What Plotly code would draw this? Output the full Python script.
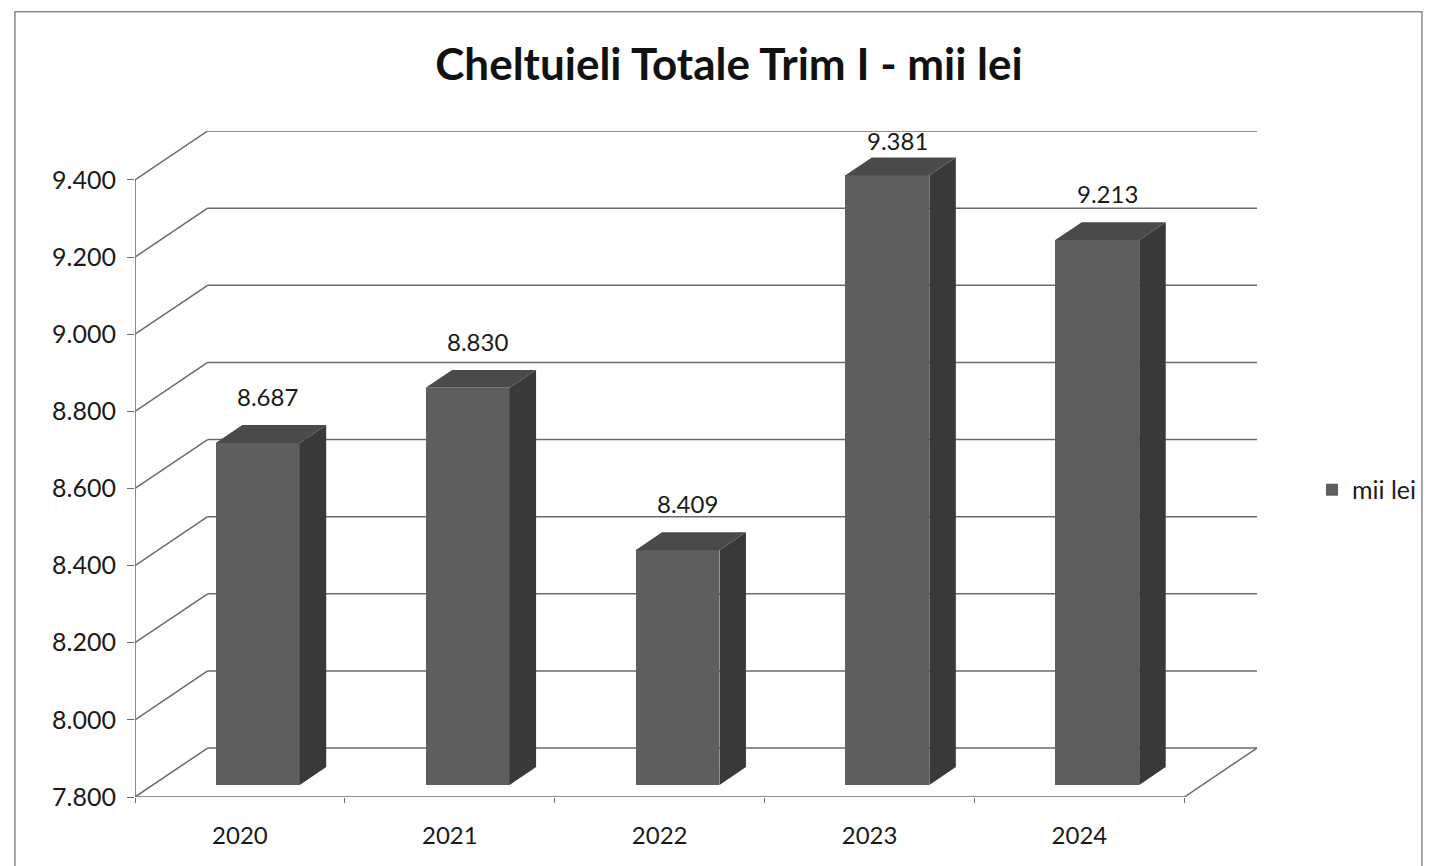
import plotly.graph_objects as go

# ---- data ----
years = ["2020", "2021", "2022", "2023", "2024"]
values = [8687, 8830, 8409, 9381, 9213]
tick_vals = [7800, 8000, 8200, 8400, 8600, 8800, 9000, 9200, 9400]
series_name = "mii lei"
title_text = "Cheltuieli Totale Trim I - mii lei"

# ---- pseudo-3D geometry (in axis units) ----
Y0 = tick_vals[0]
YMAX = tick_vals[-1]
DX = 0.346      # depth offset along x (category units)
DY = 127        # depth offset along y (value units)
F, B = 0.245, 0.61   # front / back depth fraction of bars
BW = 0.40       # bar width
PX_PER_UNIT = 666 / (YMAX + DY - Y0)   # vertical pixels per value unit

FRONT = "#5e5e5e"
SIDE = "#393939"
TOP = "#4a4a4a"
GRID = "#6a6a6a"
FONT = "Lato"

n = len(years)
xs = list(range(n))

fig = go.Figure()

# front faces
fig.add_trace(go.Bar(
    x=[i + F * DX for i in xs],
    y=[v - Y0 for v in values],
    base=[Y0 + F * DY] * n,
    width=BW,
    marker=dict(color=FRONT, line=dict(width=0)),
    name=series_name,
    showlegend=True,
    hoverinfo="skip",
))

# side and top faces
for i, v in zip(xs, values):
    xl = i + F * DX - BW / 2
    xr = i + F * DX + BW / 2
    ddx = (B - F) * DX
    ddy = (B - F) * DY
    yb = Y0 + F * DY
    yt = v + F * DY
    fig.add_trace(go.Scatter(
        x=[xr, xr + ddx, xr + ddx, xr, xr],
        y=[yb, yb + ddy, yt + ddy, yt, yb],
        fill="toself", fillcolor=SIDE, mode="lines",
        line=dict(width=0, color=SIDE), showlegend=False, hoverinfo="skip",
    ))
    fig.add_trace(go.Scatter(
        x=[xl, xr, xr + ddx, xl + ddx, xl],
        y=[yt, yt, yt + ddy, yt + ddy, yt],
        fill="toself", fillcolor=TOP, mode="lines",
        line=dict(width=0, color=TOP), showlegend=False, hoverinfo="skip",
    ))

shapes = []
xL = -0.5
xR = n - 0.5
# back wall gridlines and left wall diagonals
for t in tick_vals:
    shapes.append(dict(type="line", xref="x", yref="y", x0=xL + DX, x1=xR + DX,
                       y0=t + DY, y1=t + DY, line=dict(color=GRID, width=1.5), layer="below"))
    shapes.append(dict(type="line", xref="x", yref="y", x0=xL, x1=xL + DX,
                       y0=t, y1=t + DY, line=dict(color=GRID, width=1.5), layer="below"))
# left vertical axis line
shapes.append(dict(type="line", xref="x", yref="y", x0=xL, x1=xL, y0=Y0, y1=YMAX,
                   line=dict(color=GRID, width=1.5), layer="below"))
# floor front edge and right edge
shapes.append(dict(type="line", xref="x", yref="y", x0=xL, x1=xR, y0=Y0, y1=Y0,
                   line=dict(color=GRID, width=1.5), layer="below"))
shapes.append(dict(type="line", xref="x", yref="y", x0=xR, x1=xR + DX, y0=Y0, y1=Y0 + DY,
                   line=dict(color=GRID, width=1.5), layer="below"))
# outer chart border
shapes.append(dict(type="rect", xref="paper", yref="paper", x0=-0.107, x1=1.147,
                   y0=-0.14, y1=1.179, line=dict(color="#8a8a8a", width=1.5)))

annotations = []
LABEL_GAP_PX = 12
LABEL_H_PX = 30
for i, v in zip(xs, values):
    y_top_face = v + B * DY
    # keep data labels near the plot-area top (as the original chart does)
    top_limit = YMAX + DY - LABEL_H_PX / PX_PER_UNIT
    if y_top_face + LABEL_GAP_PX / PX_PER_UNIT > top_limit:
        ann = dict(y=YMAX + DY, yanchor="top", yshift=7)
    else:
        ann = dict(y=y_top_face, yanchor="bottom", yshift=LABEL_GAP_PX)
    ann.update(
        x=i + (F + B) / 2 * DX, xref="x", yref="y",
        text=f"{v:,}".replace(",", "."), showarrow=False, xshift=-3,
        font=dict(family=FONT, size=24, color="#1a1a1a"),
    )
    annotations.append(ann)

fig.update_layout(
    width=1426, height=858,
    margin=dict(l=127, r=171, t=123, b=69),
    paper_bgcolor="white", plot_bgcolor="white",
    separators=",.",
    title=dict(text=f"<b>{title_text}</b>", x=0.5056, xanchor="center",
               y=0.934, yanchor="middle",
               font=dict(family=FONT, size=44, color="#111111")),
    shapes=shapes,
    annotations=annotations,
    showlegend=True,
    legend=dict(x=1.049, y=0.461, xanchor="left", yanchor="middle",
                font=dict(family=FONT, size=25, color="#1a1a1a"),
                bgcolor="rgba(0,0,0,0)", itemwidth=30),
    bargap=0,
)
fig.update_xaxes(
    range=[xL, xR + DX], tickvals=xs, ticktext=years, showgrid=False, zeroline=False,
    showline=False, ticks="", ticklabelstandoff=22,
    tickfont=dict(family=FONT, size=24, color="#1a1a1a"),
    minor=dict(tickvals=[k - 0.5 for k in range(n + 1)], ticks="outside", ticklen=5,
               tickcolor=GRID, showgrid=False),
    fixedrange=True,
)
fig.update_yaxes(
    range=[Y0, YMAX + DY], tickvals=tick_vals, tickformat=",d", showgrid=False,
    zeroline=False, showline=False, ticks="outside", ticklen=7, tickcolor=GRID,
    ticklabelstandoff=6,
    tickfont=dict(family=FONT, size=25, color="#1a1a1a"),
    fixedrange=True,
)

fig.write_html("out.html")
